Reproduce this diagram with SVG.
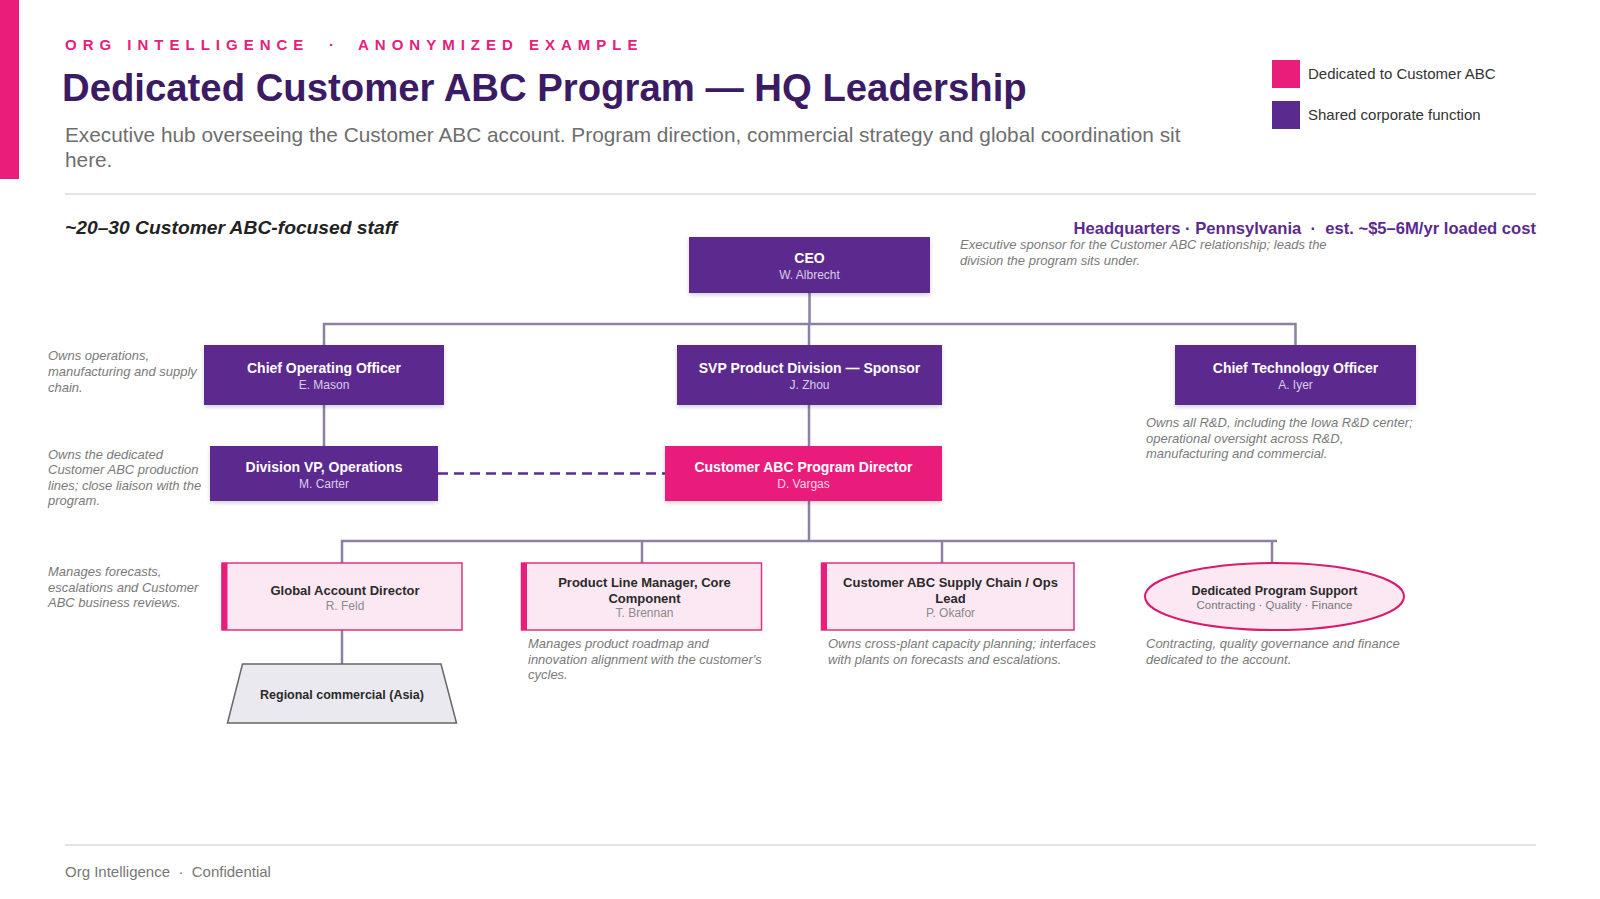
<svg xmlns="http://www.w3.org/2000/svg" width="1600" height="899" viewBox="0 0 1600 899">
<defs>
<filter id="sh" x="-10%" y="-20%" width="120%" height="150%">
<feDropShadow dx="0" dy="2" stdDeviation="2" flood-color="#000" flood-opacity="0.18"/>
</filter>
<style>
text{font-family:"Liberation Sans",Arial,sans-serif}
.kick{font-size:15px;font-weight:bold;fill:#e6207b;letter-spacing:6px}
.ttl{font-size:38.3px;font-weight:bold;fill:#3b1b63}
.sub{font-size:20.8px;fill:#6e6e6e}
.leg{font-size:15px;fill:#333}
.rule{stroke:#e3e1e9;stroke-width:2}
.note{font-size:13px;font-style:italic;fill:#7a7a7a}
.dark{fill:#5b2a8e;filter:url(#sh)}
.hot{fill:#e91e7b;filter:url(#sh)}
.lite{fill:#fce8f2;stroke:#e0307f;stroke-width:1.5}
.acc{fill:#e91e7b}
.nt{font-size:14px;font-weight:bold;fill:#fff;text-anchor:middle}
.nn{font-size:12px;fill:#d9cdea;text-anchor:middle}
.nnp{font-size:12px;fill:#fcd3e6;text-anchor:middle}
.lt{font-size:13px;font-weight:bold;fill:#2a2a2a;text-anchor:middle}
.ln{font-size:12px;fill:#8a8a8a;text-anchor:middle}
.conn{stroke:#8e80a3;stroke-width:2.5;fill:none}
.dash{stroke:#5b2a8e;stroke-width:2.5;stroke-dasharray:10 6;fill:none}
</style>
</defs>
<rect width="1600" height="899" fill="#fff"/>
<rect x="0" y="0" width="19" height="179" fill="#e91e7b"/>

<text class="kick" y="50"><tspan x="65">ORG INTELLIGENCE</tspan><tspan x="329">·</tspan><tspan x="358">ANONYMIZED EXAMPLE</tspan></text>
<text class="ttl" x="62" y="101">Dedicated Customer ABC Program — HQ Leadership</text>
<text class="sub" x="65" y="142">Executive hub overseeing the Customer ABC account. Program direction, commercial strategy and global coordination sit</text>
<text class="sub" x="65" y="167">here.</text>

<g id="legend">
<rect x="1272" y="60" width="28" height="28" fill="#e91e7b"/>
<text class="leg" x="1308" y="79">Dedicated to Customer ABC</text>
<rect x="1272" y="101" width="28" height="28" fill="#5b2a8e"/>
<text class="leg" x="1308" y="120">Shared corporate function</text>
</g>

<line class="rule" x1="65" y1="194" x2="1536" y2="194"/>
<text x="65" y="234" style="font-size:19.25px;font-weight:bold;font-style:italic;fill:#222">~20–30 Customer ABC-focused staff</text>
<text x="1536" y="234" style="font-size:16.6px;font-weight:bold;fill:#5b2a8e;text-anchor:end">Headquarters · Pennsylvania &#160;·&#160; est. ~$5–6M/yr loaded cost</text>

<g id="connectors">
<path class="conn" d="M809.5 293V324M324 345V324H1295.5V345M809 324V345M324 405V446M809 405V446M809 501V541M342 563V541H1277M642 541V563M942 541V563M1272 541V563M342 630V664"/>
<path class="dash" d="M438 473.5H665"/>
</g>

<g id="ceo">
<rect class="dark" x="689" y="237" width="241" height="56"/>
<text class="nt" x="809.5" y="263">CEO</text>
<text class="nn" x="809.5" y="279">W. Albrecht</text>
</g>
<g id="ceo-note">
<text class="note" x="960" y="249">Executive sponsor for the Customer ABC relationship; leads the</text>
<text class="note" x="960" y="265">division the program sits under.</text>
</g>

<g id="coo">
<rect class="dark" x="204" y="345" width="240" height="60"/>
<text class="nt" x="324" y="373">Chief Operating Officer</text>
<text class="nn" x="324" y="389">E. Mason</text>
</g>
<g id="coo-note">
<text class="note" x="48" y="360">Owns operations,</text>
<text class="note" x="48" y="376">manufacturing and supply</text>
<text class="note" x="48" y="392">chain.</text>
</g>

<g id="svp">
<rect class="dark" x="677" y="345" width="265" height="60"/>
<text class="nt" x="809.5" y="373">SVP Product Division — Sponsor</text>
<text class="nn" x="809.5" y="389">J. Zhou</text>
</g>

<g id="cto">
<rect class="dark" x="1175" y="345" width="241" height="60"/>
<text class="nt" x="1295.5" y="373">Chief Technology Officer</text>
<text class="nn" x="1295.5" y="389">A. Iyer</text>
</g>
<g id="cto-note">
<text class="note" x="1146" y="427">Owns all R&amp;D, including the Iowa R&amp;D center;</text>
<text class="note" x="1146" y="443">operational oversight across R&amp;D,</text>
<text class="note" x="1146" y="458">manufacturing and commercial.</text>
</g>

<g id="divvp">
<rect class="dark" x="210" y="446" width="228" height="55"/>
<text class="nt" x="324" y="472">Division VP, Operations</text>
<text class="nn" x="324" y="488">M. Carter</text>
</g>
<g id="divvp-note">
<text class="note" x="48" y="459">Owns the dedicated</text>
<text class="note" x="48" y="474">Customer ABC production</text>
<text class="note" x="48" y="490">lines; close liaison with the</text>
<text class="note" x="48" y="505">program.</text>
</g>

<g id="pd">
<rect class="hot" x="665" y="446" width="277" height="55"/>
<text class="nt" x="803.5" y="472">Customer ABC Program Director</text>
<text class="nnp" x="803.5" y="488">D. Vargas</text>
</g>

<g id="gad">
<rect class="lite" x="222" y="563" width="240" height="67"/>
<rect class="acc" x="221.5" y="563" width="6" height="67"/>
<text class="lt" x="345" y="595">Global Account Director</text>
<text class="ln" x="345" y="610">R. Feld</text>
</g>
<g id="gad-note">
<text class="note" x="48" y="576">Manages forecasts,</text>
<text class="note" x="48" y="592">escalations and Customer</text>
<text class="note" x="48" y="607">ABC business reviews.</text>
</g>

<g id="plm">
<rect class="lite" x="521.5" y="563" width="240" height="67"/>
<rect class="acc" x="521" y="563" width="6" height="67"/>
<text class="lt" x="644.5" y="587">Product Line Manager, Core</text>
<text class="lt" x="644.5" y="603">Component</text>
<text class="ln" x="644.5" y="617">T. Brennan</text>
</g>
<g id="plm-note">
<text class="note" x="528" y="648">Manages product roadmap and</text>
<text class="note" x="528" y="664">innovation alignment with the customer's</text>
<text class="note" x="528" y="679">cycles.</text>
</g>

<g id="scm">
<rect class="lite" x="821.5" y="563" width="252.5" height="67"/>
<rect class="acc" x="821" y="563" width="6" height="67"/>
<text class="lt" x="950.5" y="587">Customer ABC Supply Chain / Ops</text>
<text class="lt" x="950.5" y="603">Lead</text>
<text class="ln" x="950.5" y="617">P. Okafor</text>
</g>
<g id="scm-note">
<text class="note" x="828" y="648">Owns cross-plant capacity planning; interfaces</text>
<text class="note" x="828" y="664">with plants on forecasts and escalations.</text>
</g>

<g id="dps">
<ellipse cx="1274.5" cy="596.5" rx="129.5" ry="33.5" fill="#fce8f2" stroke="#d81b6f" stroke-width="2"/>
<text x="1274.5" y="595" style="font-size:12.5px;font-weight:bold;fill:#2a2a2a;text-anchor:middle">Dedicated Program Support</text>
<text x="1274.5" y="609" style="font-size:11.5px;fill:#777;text-anchor:middle">Contracting · Quality · Finance</text>
</g>
<g id="dps-note">
<text class="note" x="1146" y="648">Contracting, quality governance and finance</text>
<text class="note" x="1146" y="664">dedicated to the account.</text>
</g>

<g id="regional">
<polygon points="242.5,664 441,664 456.5,723 227.5,723" fill="#ebe9f0" stroke="#666" stroke-width="1.5"/>
<text x="342" y="699" style="font-size:12.5px;font-weight:bold;fill:#2a2a2a;text-anchor:middle">Regional commercial (Asia)</text>
</g>

<line class="rule" x1="65" y1="845" x2="1536" y2="845"/>
<text x="65" y="877" style="font-size:15px;fill:#777">Org Intelligence &#160;·&#160; Confidential</text>
</svg>
